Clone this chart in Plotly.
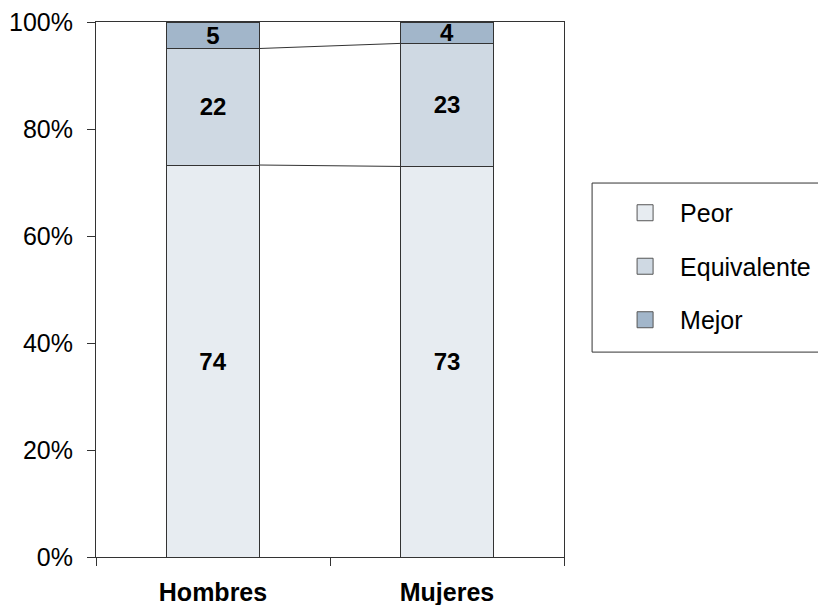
import plotly.graph_objects as go

categorias = ["Hombres", "Mujeres"]
peor = [74, 73]
equivalente = [22, 23]
mejor = [5, 4]

series = [
    ("Peor", peor, "#E7ECF1"),
    ("Equivalente", equivalente, "#CFD9E3"),
    ("Mejor", mejor, "#A2B6CA"),
]

ticks_y = [0, 20, 40, 60, 80, 100]

FONT = "Liberation Sans, Arial, sans-serif"
ANCHO = 0.4

fig = go.Figure()

for nombre, valores, color in series:
    fig.add_trace(
        go.Bar(
            x=categorias,
            y=valores,
            name=nombre,
            text=[str(v) for v in valores],
            textposition="inside",
            insidetextanchor="middle",
            textangle=0,
            textfont=dict(family=FONT, size=24, color="black", weight="bold"),
            marker=dict(color=color, line=dict(color="#333333", width=1)),
            width=ANCHO,
            showlegend=False,
            hoverinfo="skip",
        )
    )
    # entrada de leyenda con cuadro mas grande
    fig.add_trace(
        go.Scatter(
            x=[None],
            y=[None],
            mode="markers",
            name=nombre,
            legendgroup=nombre,
            marker=dict(symbol="square", size=20, color=color,
                        line=dict(color="#555555", width=1)),
        )
    )

# lineas de serie entre las barras (acumulados en %)
totales = [p + e + m for p, e, m in zip(peor, equivalente, mejor)]
acum1 = [p / t * 100 for p, t in zip(peor, totales)]
acum2 = [(p + e) / t * 100 for p, e, t in zip(peor, equivalente, totales)]
for acum in (acum1, acum2):
    fig.add_shape(
        type="line", xref="x", yref="y",
        x0=0 + ANCHO / 2, x1=1 - ANCHO / 2,
        y0=acum[0], y1=acum[1],
        line=dict(color="#333333", width=1),
    )

# marco de la leyenda: arriba, izquierda y abajo (sale por la derecha)
for x0, y0, x1, y1 in [(1.06, 0.699, 1.6, 0.699),
                       (1.06, 0.383, 1.06, 0.699),
                       (1.06, 0.383, 1.6, 0.383)]:
    fig.add_shape(
        type="line", xref="paper", yref="paper",
        x0=x0, y0=y0, x1=x1, y1=y1,
        line=dict(color="#333333", width=1),
    )

fig.update_layout(
    barmode="stack",
    barnorm="percent",
    width=826,
    height=605,
    margin=dict(l=88, r=270, t=14, b=56, autoexpand=False),
    plot_bgcolor="white",
    paper_bgcolor="white",
    font=dict(family=FONT, size=24, color="black"),
    uniformtext=dict(minsize=24, mode="show"),
    legend=dict(
        x=1.06, y=0.686, xanchor="left", yanchor="top",
        borderwidth=0,
        bordercolor="rgba(0,0,0,0)",
        bgcolor="rgba(0,0,0,0)",
        font=dict(family=FONT, size=25),
        traceorder="grouped",
        tracegroupgap=18,
        itemsizing="trace",
        itemwidth=60,
        indentation=18,
    ),
)

fig.update_xaxes(
    type="category",
    tickson="boundaries",
    ticks="outside",
    ticklen=8,
    tickcolor="#333333",
    showline=True,
    linecolor="#333333",
    mirror=True,
    showgrid=False,
    automargin=False,
    ticklabelstandoff=13,
    tickfont=dict(family=FONT, size=25, weight="bold"),
)
fig.update_yaxes(
    range=[0, 100],
    tickvals=ticks_y,
    ticktext=[f"{v}%" for v in ticks_y],
    ticks="outside",
    ticklen=8,
    tickcolor="#333333",
    showline=True,
    linecolor="#333333",
    mirror=True,
    showgrid=False,
    zeroline=False,
    automargin=False,
    ticklabeloverflow="allow",
    ticklabelstandoff=9,
    tickfont=dict(family=FONT, size=25),
)

fig.write_html("out.html")
